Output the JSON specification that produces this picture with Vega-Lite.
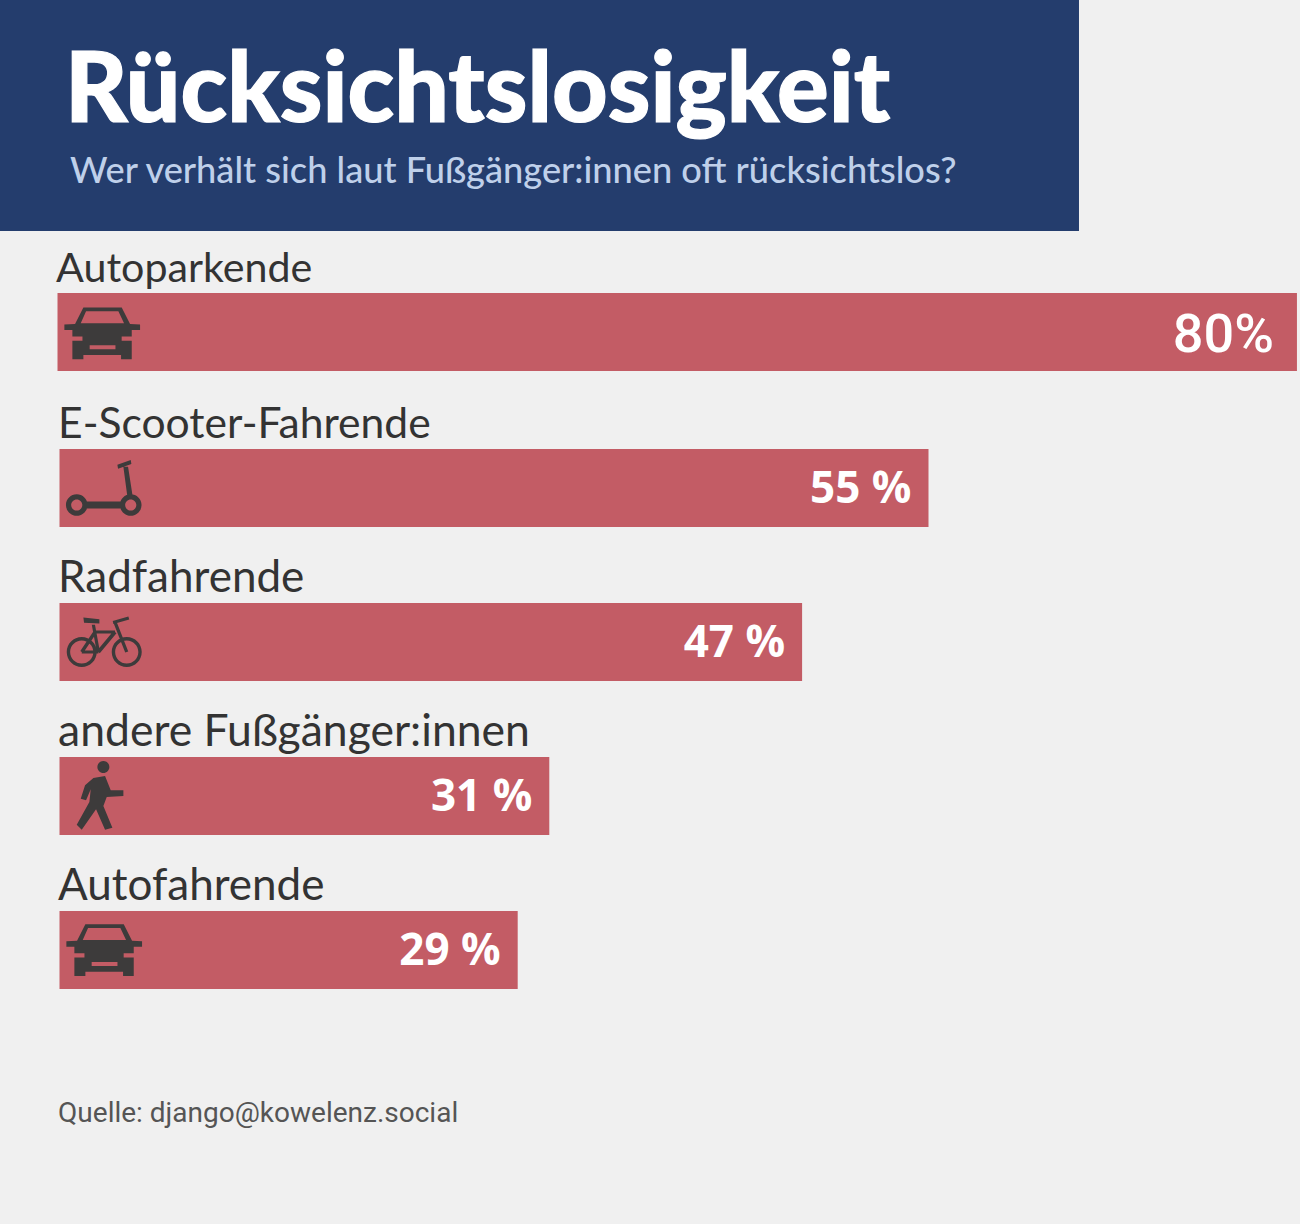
{
"$schema":"https://vega.github.io/schema/vega-lite/v6.json",
"width":1300,"height":1224,
"autosize":{"type":"fit","contains":"padding"},
"padding":0,
"background":"#f0f0f0",
"view":{"stroke":null},
"datasets":{"bars":[
{"gruppe":"Autoparkende","wert":78.32,"label":"80%","icon":"autoA"},
{"gruppe":"E-Scooter-Fahrende","wert":55,"label":"55 %","icon":"scooter"},
{"gruppe":"Radfahrende","wert":47,"label":"47 %","icon":"rad"},
{"gruppe":"andere Fußgänger:innen","wert":31,"label":"31 %","icon":"fuss"},
{"gruppe":"Autofahrende","wert":29,"label":"29 %","icon":"autoB"}
]},
"data":{"name":"bars"},
"resolve":{"scale":{"y":"independent","shape":"independent"}},
"layer":[
{"data":{"values":[{"teil":"kopf"}]},
 "mark":{"type":"rect","color":"#243d6d"},
 "encoding":{
  "x":{"datum":-3.766,"type":"quantitative","axis":null,"scale":{"domain":[-3.766,78.513],"zero":false,"nice":false}},
  "x2":{"datum":64.525},
  "y":{"datum":0,"type":"quantitative","axis":null,"scale":{"domain":[0,1224],"range":[0,1224],"nice":false,"zero":false}},
  "y2":{"datum":231}
 }},
{"data":{"values":[{"text":"Rücksichtslosigkeit"}]},
 "mark":{"type":"text","align":"left","baseline":"alphabetic","font":"Lato","fontWeight":900,"fontSize":96.5,"color":"#ffffff","stroke":"#ffffff","strokeWidth":1.2},
 "encoding":{
  "x":{"datum":0.35,"type":"quantitative","axis":null,"scale":{"domain":[-3.766,78.513],"zero":false,"nice":false}},
  "y":{"datum":122,"type":"quantitative","axis":null,"scale":{"domain":[0,1224],"range":[0,1224],"nice":false,"zero":false}},
  "text":{"field":"text"}
 }},
{"data":{"values":[{"text":"Wer verhält sich laut Fußgänger:innen oft rücksichtslos?"}]},
 "mark":{"type":"text","align":"left","baseline":"alphabetic","font":"Lato","fontWeight":500,"fontSize":36.2,"color":"#bfd0ea"},
 "encoding":{
  "x":{"datum":0.66,"type":"quantitative","axis":null,"scale":{"domain":[-3.766,78.513],"zero":false,"nice":false}},
  "y":{"datum":183,"type":"quantitative","axis":null,"scale":{"domain":[0,1224],"range":[0,1224],"nice":false,"zero":false}},
  "text":{"field":"text"}
 }},
{"data":{"values":[{"text":"Quelle: django@kowelenz.social"}]},
 "mark":{"type":"text","align":"left","baseline":"alphabetic","font":"Roboto","fontSize":28,"color":"#555555"},
 "encoding":{
  "x":{"datum":-0.09,"type":"quantitative","axis":null,"scale":{"domain":[-3.766,78.513],"zero":false,"nice":false}},
  "y":{"datum":1122,"type":"quantitative","axis":null,"scale":{"domain":[0,1224],"range":[0,1224],"nice":false,"zero":false}},
  "text":{"field":"text"}
 }},
{"mark":{"type":"bar","color":"#c35c65","yOffset":{"expr":"datum.gruppe==='Autoparkende'?-2:0"},"x2Offset":{"expr":"datum.gruppe==='Autoparkende'?-2:0"}},
 "encoding":{
  "x":{"field":"wert","type":"quantitative","axis":null,"scale":{"domain":[-3.766,78.513],"zero":false,"nice":false}},
  "x2":{"datum":0},
  "y":{"field":"gruppe","type":"nominal","axis":null,"sort":null,"scale":{"type":"band","domain":["Autoparkende","E-Scooter-Fahrende","Radfahrende","andere Fußgänger:innen","Autofahrende"],"range":[295,989],"paddingInner":0.4935,"paddingOuter":0}}
 }},
{"mark":{"type":"text","align":"left","baseline":"alphabetic","font":"Lato","color":"#333333",
  "fontSize":{"expr":"datum.gruppe==='Autoparkende'?41.2:datum.gruppe==='E-Scooter-Fahrende'?42.6:datum.gruppe==='andere Fußgänger:innen'?44.5:44"},
  "dx":{"expr":"datum.gruppe==='Autoparkende'?-2:0"},
  "dy":{"expr":"datum.gruppe==='Autoparkende'?-52:-50"}},
 "encoding":{
  "x":{"datum":-0.09,"type":"quantitative","axis":null,"scale":{"domain":[-3.766,78.513],"zero":false,"nice":false}},
  "y":{"field":"gruppe","type":"nominal","axis":null,"sort":null,"scale":{"type":"band","domain":["Autoparkende","E-Scooter-Fahrende","Radfahrende","andere Fußgänger:innen","Autofahrende"],"range":[295,989],"paddingInner":0.4935,"paddingOuter":0}},
  "text":{"field":"gruppe"}
 }},
{"transform":[{"filter":"datum.gruppe!=='Autoparkende'"}],
 "mark":{"type":"text","align":"right","baseline":"alphabetic","font":"Open Sans","fontWeight":"bold","fontSize":44,"color":"#ffffff","dx":-17,"dy":15},
 "encoding":{
  "x":{"field":"wert","type":"quantitative","axis":null,"scale":{"domain":[-3.766,78.513],"zero":false,"nice":false}},
  "y":{"field":"gruppe","type":"nominal","axis":null,"sort":null,"scale":{"type":"band","domain":["Autoparkende","E-Scooter-Fahrende","Radfahrende","andere Fußgänger:innen","Autofahrende"],"range":[295,989],"paddingInner":0.4935,"paddingOuter":0}},
  "text":{"field":"label"}
 }},
{"transform":[{"filter":"datum.gruppe==='Autoparkende'"}],
 "mark":{"type":"text","align":"right","baseline":"alphabetic","font":"Roboto","fontWeight":500,"fontSize":54,"color":"#ffffff","dx":-23,"dy":18},
 "encoding":{
  "x":{"field":"wert","type":"quantitative","axis":null,"scale":{"domain":[-3.766,78.513],"zero":false,"nice":false}},
  "y":{"field":"gruppe","type":"nominal","axis":null,"sort":null,"scale":{"type":"band","domain":["Autoparkende","E-Scooter-Fahrende","Radfahrende","andere Fußgänger:innen","Autofahrende"],"range":[295,989],"paddingInner":0.4935,"paddingOuter":0}},
  "text":{"field":"label"}
 }},
{"mark":{"type":"point","filled":true,"opacity":1,"color":"#3d3b3b","size":6400,"strokeWidth":0},
 "encoding":{
  "x":{"datum":2.82,"type":"quantitative","axis":null,"scale":{"domain":[-3.766,78.513],"zero":false,"nice":false}},
  "y":{"field":"gruppe","type":"nominal","axis":null,"sort":null,"scale":{"type":"band","domain":["Autoparkende","E-Scooter-Fahrende","Radfahrende","andere Fußgänger:innen","Autofahrende"],"range":[295,989],"paddingInner":0.4935,"paddingOuter":0}},
  "shape":{"field":"icon","type":"nominal","legend":null,"scale":{"domain":["autoA","autoB","scooter","rad","fuss"],"range":[
"M-.517-.662L.442-.662L.65-.253L.9-.237L.9-.103L.692-.103L.692.63L.425.63L.425.522L-.517.522L-.517.63L-.792.63L-.792-.103L-.992-.103L-.992-.237L-.725-.253ZM-.45-.57L-.583-.27L.5-.27L.358-.57ZM-.36.28L-.36.38L.285.38L.285.28ZM-.792.06L-.792.17L-.54.17L-.54.06ZM.44.06L.44.17L.692.17L.692.06Z",
"M-.467-.642L.492-.642L.7-.233L.95-.217L.95-.083L.742-.083L.742.65L.475.65L.475.542L-.467.542L-.467.65L-.742.65L-.742-.083L-.942-.083L-.942-.217L-.675-.233ZM-.4-.55L-.533-.25L.55-.25L.408-.55ZM-.31.3L-.31.4L.335.4L.335.3ZM-.742.08L-.742.19L-.49.19L-.49.08ZM.49.08L.49.19L.742.19L.742.08Z",
"M-.953.425A.27.27 0 1 1-.413.425A.27.27 0 1 1-.953.425ZM-.823.425A.14.14 0 1 0-.543.425A.14.14 0 1 0-.823.425ZM.397.425A.27.27 0 1 1 .937.425A.27.27 0 1 1 .397.425ZM.527.425A.14.14 0 1 0 .807.425A.14.14 0 1 0 .527.425ZM-.45.34L.44.34L.44.51L-.45.51ZM.483-.533L.6-.533L.717.217L.583.217ZM.333-.583L.667-.7L.683-.6L.35-.483Z",
"M-.933.25A.375.375 0 1 1-.183.25A.375.375 0 1 1-.933.25ZM-.848.25A.29.29 0 1 0-.268.25A.29.29 0 1 0-.848.25ZM.192.25A.375.375 0 1 1 .942.25A.375.375 0 1 1 .192.25ZM.277.25A.29.29 0 1 0 .857.25A.29.29 0 1 0 .277.25ZM-.225-.29L.275-.29L.275-.21L-.225-.21ZM.31-.22L-.107.28L-.177.22L.24-.28ZM-.227-.433L-.102.25L-.182.25L-.307-.433ZM-.19-.226L-.523.274L-.593.226L-.26-.274ZM-.558.21L-.142.21L-.142.29L-.558.29ZM.313-.505L.605.235L.529.265L.237-.475ZM-.517-.61L-.117-.568L-.117-.465L-.5-.482ZM.217-.527L.608-.635L.63-.56L.233-.45Z",
"M-.167-.725A.15.15 0 1 1 .133-.725A.15.15 0 1 1-.167-.725ZM-.267-.45L.025-.5L.167-.142L.483-.142L.483 0L.067.025L-.017.25L.208.792L.025.842L-.2.333L-.558.842L-.683.717L-.367.15L-.333-.167L-.45.108L-.583.067L-.475-.267Z"
]}}
 }}
]
}
